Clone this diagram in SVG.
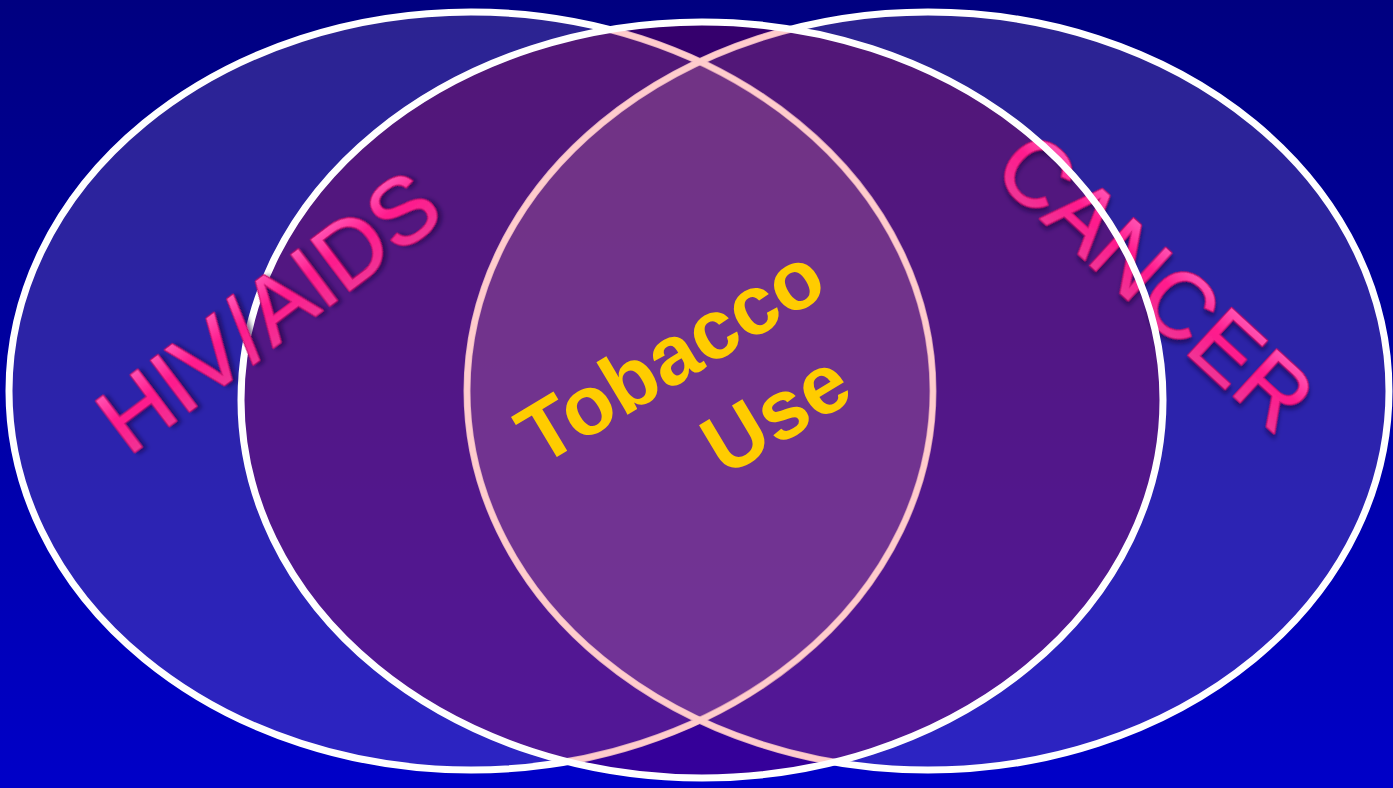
<svg xmlns="http://www.w3.org/2000/svg" width="1393" height="788" viewBox="0 0 1393 788">
  <defs>
    <linearGradient id="bg" x1="0" y1="0" x2="0" y2="1">
      <stop offset="0" stop-color="#000080"/>
      <stop offset="1" stop-color="#0000c8"/>
    </linearGradient>
    <linearGradient id="pink" x1="0" y1="0" x2="0" y2="1">
      <stop offset="0" stop-color="#ff78cc"/>
      <stop offset="0.45" stop-color="#ff1a8c"/>
      <stop offset="1" stop-color="#e8409a"/>
    </linearGradient>
    <filter id="shadow" x="-10%" y="-20%" width="130%" height="150%">
      <feDropShadow dx="3" dy="3" stdDeviation="2" flood-color="#10003a" flood-opacity="0.55"/>
    </filter>
    <clipPath id="clipMid">
      <ellipse cx="702" cy="400" rx="461" ry="378"/>
    </clipPath>
    <clipPath id="clipLeft">
      <ellipse cx="471" cy="391" rx="462" ry="379"/>
    </clipPath>
    <style>
      .side { fill: rgb(157,125,186); fill-opacity: 0.28; stroke: #ffffff; stroke-width: 7; }
      .mid { fill: rgb(165,0,62); fill-opacity: 0.32; }
      .pinkline { fill: none; stroke: #ffcccc; stroke-width: 5.5; }
      .whiteline { fill: none; stroke: #ffffff; stroke-width: 7; }
      .label { font-family: "Liberation Sans", Arial, sans-serif; fill: url(#pink); stroke: #c8106e; stroke-width: 2.5; stroke-linejoin: round; paint-order: stroke; text-anchor: middle; filter: url(#shadow); }
      .tob { font-family: "Liberation Sans", Arial, sans-serif; font-weight: bold; fill: #ffcc00; text-anchor: middle; }
    </style>
  </defs>

  <rect x="0" y="0" width="1393" height="788" fill="url(#bg)"/>

  <g id="hiv-aids">
    <ellipse class="side" cx="471" cy="391" rx="462" ry="379"/>
  </g>
  <g id="cancer">
    <ellipse class="side" cx="928" cy="391" rx="461" ry="379"/>
  </g>
  <g id="tobacco-use">
    <ellipse class="mid" cx="702" cy="400" rx="461" ry="378"/>
    <ellipse cx="928" cy="391" rx="461" ry="379" fill="#ffcccc" fill-opacity="0.07" clip-path="url(#clipLeft)"/>
  </g>

  <g id="label-cancer">
    <text class="label" font-size="92" transform="translate(1156,281) rotate(42.5)" y="33">CANCER</text>
  </g>

  <g id="connectors">
    <g clip-path="url(#clipMid)">
      <ellipse class="pinkline" cx="471" cy="391" rx="462" ry="379"/>
      <ellipse class="pinkline" cx="928" cy="391" rx="461" ry="379"/>
    </g>
    <ellipse class="whiteline" cx="702" cy="400" rx="461" ry="378"/>
  </g>

  <g id="labels">
    <text class="label" font-size="93" transform="translate(268,311) rotate(-37)" y="33">HIV/AIDS</text>
    <text class="tob" font-size="84" transform="translate(670,354) rotate(-31)" y="30">Tobacco</text>
    <text class="tob" font-size="84" transform="translate(775,412) rotate(-31)" y="30">Use</text>
  </g>
</svg>
